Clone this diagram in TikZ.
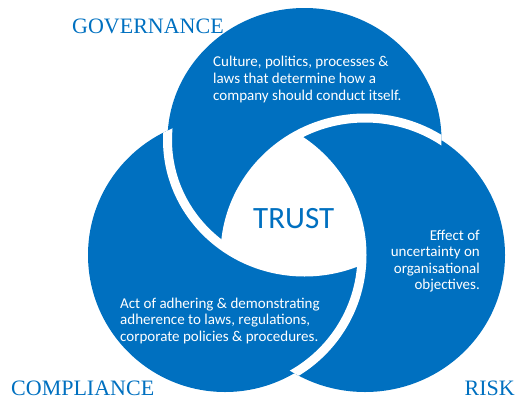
\documentclass[tikz,border=0pt]{standalone}
\usepackage{fontspec}
\setmainfont{Liberation Serif}
\newfontfamily\bodyfont{Carlito}
\definecolor{tblue}{RGB}{0,112,192}
\begin{document}
\begin{tikzpicture}[x=1pt,y=-1pt,
  disk/.style={fill=tblue},
  band/.style={draw=white,line width=9pt},
  lbl/.style={text=tblue,font=\fontsize{22}{26}\selectfont,inner sep=0pt},
  body/.style={text=white,font=\bodyfont\fontsize{15}{18}\selectfont,inner sep=0pt},
  core/.style={text=tblue,font=\bodyfont\fontsize{31}{36}\selectfont,inner sep=0pt}]
\useasboundingbox (0,0) rectangle (519,399);
\coordinate (gc) at (304.5,140);
\coordinate (cc) at (225,255);
\coordinate (rc) at (365,255);
\def\gshape{(gc) ellipse[x radius=137pt,y radius=132pt]}
\def\cshape{(cc) circle[radius=137pt]}
\def\rshape{(rc) ellipse[x radius=140pt,y radius=137pt]}
% blue disks
\fill[disk] \gshape;
\fill[disk] \cshape;
\fill[disk] \rshape;
% white core (triple overlap)
\begin{scope}
  \clip \gshape;
  \clip \cshape;
  \fill[white] \rshape;
\end{scope}
% swirl bands
\begin{scope}
  \clip \cshape;
  \draw[band] \gshape;
\end{scope}
\begin{scope}
  \clip \gshape;
  \draw[band] \rshape;
\end{scope}
\begin{scope}
  \clip \rshape;
  \draw[band] \cshape;
\end{scope}
% labels
\node[lbl,anchor=base west] (gov) at (72,33) {GOVERNANCE};
\node[lbl,anchor=base west] (comp) at (11,395) {COMPLIANCE};
\node[lbl,anchor=base east] (risk) at (515,395) {RISK};
\node[core,anchor=base west] (trust) at (253,228) {TRUST};
% governance text
\node[body,anchor=base west] (g1) at (213,66.7) {Culture, politics, processes \&};
\node[body,anchor=base west] (g2) at (213,83.3) {laws that determine how a};
\node[body,anchor=base west] (g3) at (213,100) {company should conduct itself.};
% risk text
\node[body,anchor=base east] (r1) at (480,240) {Effect of};
\node[body,anchor=base east] (r2) at (480,256.5) {uncertainty on};
\node[body,anchor=base east] (r3) at (480,273) {organisational};
\node[body,anchor=base east] (r4) at (480,289.5) {objectives.};
% compliance text
\node[body,anchor=base west] (c1) at (120,308) {Act of adhering \& demonstrating};
\node[body,anchor=base west] (c2) at (120,324.5) {adherence to laws, regulations,};
\node[body,anchor=base west] (c3) at (120,341) {corporate policies \& procedures.};
\end{tikzpicture}
\end{document}
